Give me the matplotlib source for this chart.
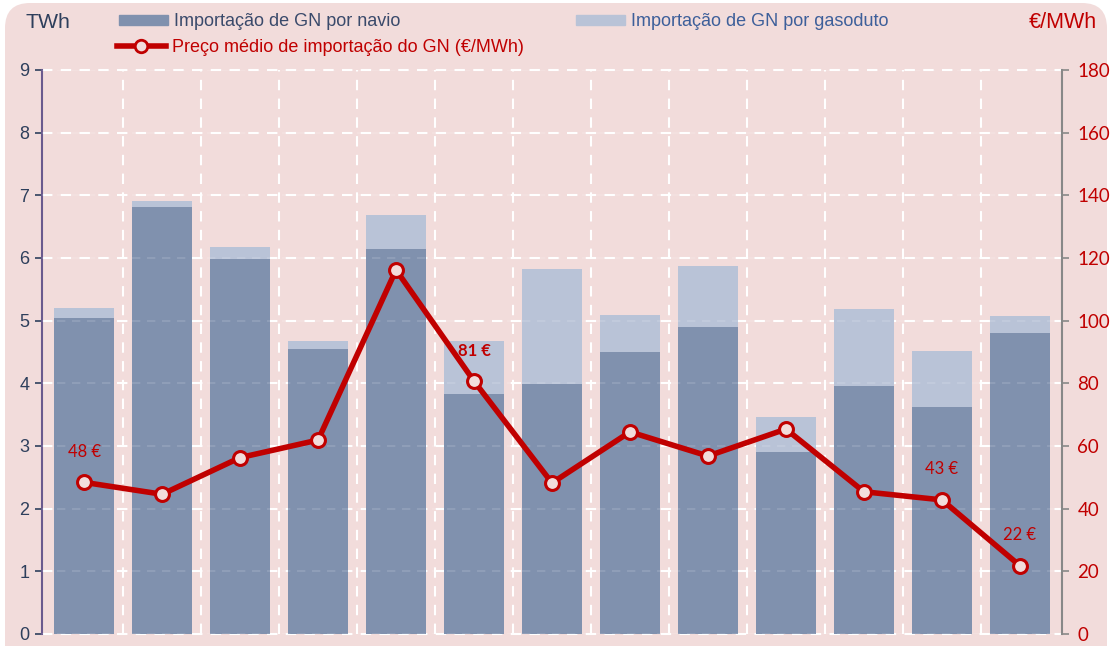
import numpy as np
import matplotlib.pyplot as plt
from matplotlib.patches import FancyBboxPatch, Patch
from matplotlib.lines import Line2D

# dados (TWh e EUR/MWh)
navio = [5.04, 6.82, 5.98, 4.55, 6.14, 3.83, 3.99, 4.50, 4.90, 2.91, 3.96, 3.62, 4.81]
gasoduto = [0.17, 0.09, 0.19, 0.12, 0.55, 0.85, 1.83, 0.59, 0.97, 0.56, 1.22, 0.89, 0.26]
preco = [48.4, 44.6, 56.3, 61.9, 116.2, 80.7, 48.2, 64.5, 56.8, 65.4, 45.4, 42.8, 21.8]
rotulos = {0: "48 €", 5: "81 €", 11: "43 €", 12: "22 €"}
rotulo_negrito = [5]

c_navio = "#8091AE"
c_gas = "#B9C3D7"
c_preco = "#C00000"
c_fundo = "#F2DCDB"
c_eixo = "#2E3F5C"

x = np.arange(len(navio))

fig = plt.figure(figsize=(11.1, 6.46), dpi=100)
fig.patch.set_facecolor("white")
fundo = FancyBboxPatch((0.05, -0.3), 11.02, 6.73, boxstyle="round,pad=0,rounding_size=0.25",
                       transform=fig.dpi_scale_trans, facecolor=c_fundo, edgecolor="none", zorder=-10)
fig.patches.append(fundo)

ax = fig.add_axes([42 / 1110, 1 - 634 / 646, (1062 - 42) / 1110, (634 - 70) / 646])
ax.set_facecolor(c_fundo)
ax.patch.set_alpha(0)

# grelha
for yv in range(0, 10):
    ax.axhline(yv, color="white", lw=1.5, ls=(0, (5, 4)), zorder=1, clip_on=False)
    ax.axhline(yv, color="white", lw=1.2, ls=(0, (5, 4)), zorder=3, alpha=0.15)
for xv in np.arange(0.5, len(navio) - 1, 1):
    ax.axvline(xv, color="white", lw=1.5, ls=(0, (5, 4)), zorder=1)

ax.bar(x, navio, width=0.77, color=c_navio, zorder=2)
ax.bar(x, gasoduto, width=0.77, bottom=navio, color=c_gas, zorder=2)

ax.set_xlim(-0.54, 12.54)
ax.set_ylim(0, 9)
ax.set_yticks(range(0, 10))
ax.set_xticks([])
ax.tick_params(axis="y", colors=c_eixo, labelsize=13, length=5, width=1.2, pad=4)
for lab in ax.get_yticklabels():
    lab.set_fontfamily("Liberation Sans")
ax.spines["top"].set_visible(False)
ax.spines["bottom"].set_visible(False)
ax.spines["right"].set_visible(False)
ax.spines["left"].set_color("#6A5A8E")
ax.spines["left"].set_linewidth(1.5)

ax2 = ax.twinx()
ax2.plot(x, preco, color=c_preco, lw=4, marker="o", markersize=10,
         markerfacecolor=c_fundo, markeredgecolor=c_preco, markeredgewidth=2.2, zorder=5)
ax2.set_ylim(0, 180)
ax2.set_yticks(range(0, 181, 20))
ax2.tick_params(axis="y", colors="#888888", labelcolor=c_preco, labelsize=13.5, length=5, width=1.2, pad=6)
for lab in ax2.get_yticklabels():
    lab.set_fontfamily("Lato")
for s in ["top", "bottom", "left"]:
    ax2.spines[s].set_visible(False)
ax2.spines["right"].set_color("#888888")
ax2.spines["right"].set_linewidth(1.5)

for i, txt in rotulos.items():
    ax2.annotate(txt, (x[i], preco[i]), xytext=(0, 22), textcoords="offset points",
                 ha="center", va="center", color=c_preco, fontsize=12, family="Lato",
                 fontweight="bold" if i in rotulo_negrito else "normal", zorder=6)

# titulos dos eixos
fig.text(25 / 1110, 1 - 22 / 646, "TWh", color=c_eixo, fontsize=15.3, family="Liberation Sans",
         ha="left", va="center")
fig.text(1097 / 1110, 1 - 22 / 646, "€/MWh", color=c_preco, fontsize=15.5, family="Liberation Sans",
         ha="right", va="center")

# legendas
leg_kw = dict(frameon=False, handlelength=2.7, handleheight=0.5,
              handletextpad=0.33, borderpad=0, borderaxespad=0, loc="center left",
              prop={"family": "Liberation Sans", "size": 13})
fig.legend(handles=[Patch(color=c_navio)], labels=["Importação de GN por navio"],
           bbox_to_anchor=(119 / 1110, 1 - 22 / 646), labelcolor="#3A4A6B", **leg_kw)
fig.legend(handles=[Patch(color=c_gas)], labels=["Importação de GN por gasoduto"],
           bbox_to_anchor=(576 / 1110, 1 - 22 / 646), labelcolor="#3D5F9A", **leg_kw)
fig.legend(handles=[Line2D([], [], color=c_preco, lw=4, marker="o", markersize=9,
                           markerfacecolor=c_fundo, markeredgecolor=c_preco, markeredgewidth=2)],
           labels=["Preço médio de importação do GN (€/MWh)"],
           bbox_to_anchor=(117 / 1110, 1 - 47 / 646), labelcolor=c_preco, **leg_kw)

fig.savefig("out.png", dpi=100, facecolor="white")
